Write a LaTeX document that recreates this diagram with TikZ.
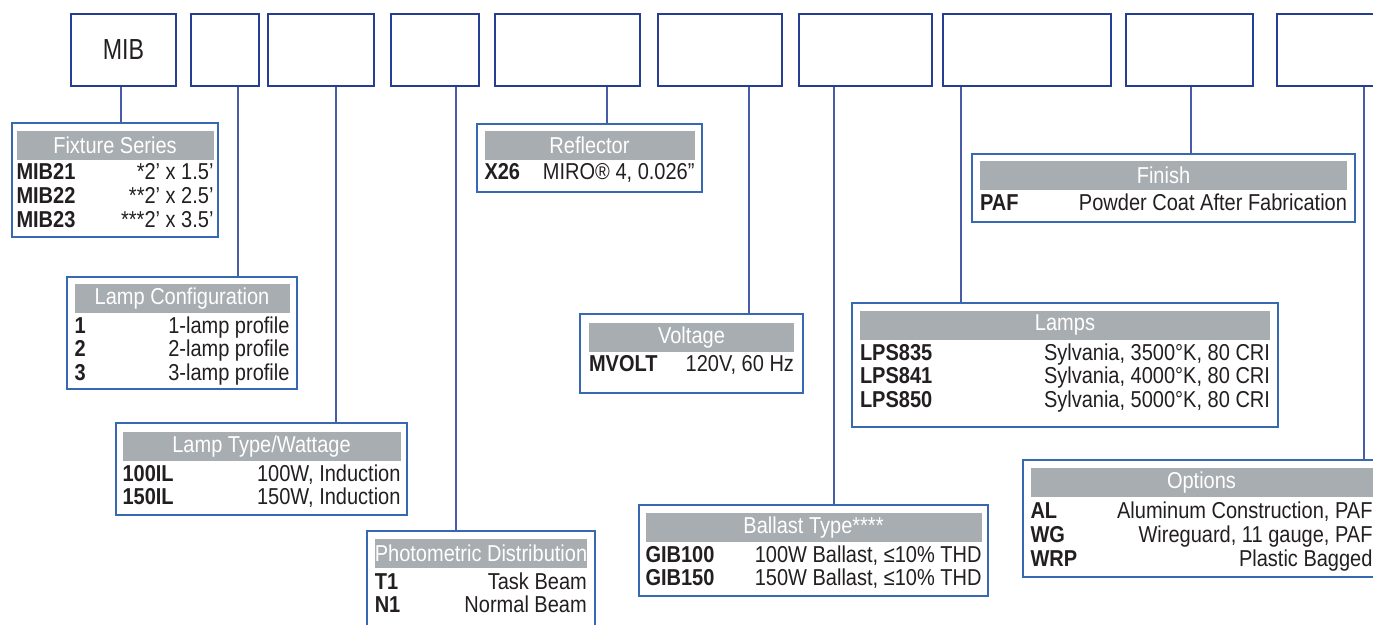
\documentclass[tikz,border=0pt]{standalone}
\usepackage{fontspec}
\setmainfont{Liberation Sans}[FakeStretch=0.87]
\newfontfamily\topfont{Liberation Sans}[FakeStretch=0.8]
\usepackage{xcolor}
\definecolor{MIBnavy}{RGB}{38,62,145}
\definecolor{MIBblue}{RGB}{55,105,178}
\definecolor{MIBline}{RGB}{72,92,168}
\definecolor{MIBgrey}{RGB}{168,173,177}
\definecolor{MIBtext}{RGB}{35,31,32}
\tikzset{every path/.style={line cap=butt, line join=miter}}

\begin{document}
\begin{tikzpicture}[
    x=1pt, y=-1pt,
    topbox/.style={
        draw=MIBnavy,
        line width=2.6pt,
        minimum height=72,
        inner sep=0pt,
        text=MIBtext,
        font=\topfont\fontsize{29}{32}\selectfont
    },
    legbox/.style={
        draw=MIBblue,
        line width=1.3pt,
        fill=white,
        inner sep=0pt
    },
    head/.style={
        fill=MIBgrey,
        text=white,
        anchor=north,
        minimum height=29,
        inner sep=0pt,
        font=\fontsize{23}{24}\selectfont
    },
    rows/.style={
        anchor=north west,
        inner sep=0pt,
        text=MIBtext,
        font=\fontsize{23}{23.6}\selectfont
    },
    link/.style={
        draw=MIBline,
        line width=1.3pt
    }
]
\useasboundingbox (0,0) rectangle (1373,624);

\node[topbox, minimum width=105] (t1) at (123.5,50) {MIB};
\node[topbox, minimum width=68] (t2) at (225,50) {};
\node[topbox, minimum width=106] (t3) at (321,50) {};
\node[topbox, minimum width=88] (t4) at (435,50) {};
\node[topbox, minimum width=145] (t5) at (567.5,50) {};
\node[topbox, minimum width=124] (t6) at (720,50) {};
\node[topbox, minimum width=133] (t7) at (865.5,50) {};
\node[topbox, minimum width=168] (t8) at (1027,50) {};
\node[topbox, minimum width=127] (t9) at (1189.5,50) {};
\node[topbox, minimum width=123] (t10) at (1338.5,50) {};

\node[legbox, minimum width=206, minimum height=114] (fixture) at (115,180) {};
\node[head, minimum width=197] (fixturehd) at ([yshift=-8pt]fixture.north) {Fixture Series};
\node[rows] (fixturerows) at ([yshift=-3.5pt]fixturehd.south west) {\begin{tabular*}{197pt}{@{}l@{\extracolsep{\fill}}r@{}}
\textbf{MIB21} & *2’ x 1.5’\\
\textbf{MIB22} & **2’ x 2.5’\\
\textbf{MIB23} & ***2’ x 3.5’
\end{tabular*}};

\node[legbox, minimum width=230, minimum height=112] (lampcfg) at (182,333) {};
\node[head, minimum width=215] (lampcfghd) at ([yshift=-7pt]lampcfg.north) {Lamp Configuration};
\node[rows] (lampcfgrows) at ([yshift=-3.5pt]lampcfghd.south west) {\begin{tabular*}{215pt}{@{}l@{\extracolsep{\fill}}r@{}}
\textbf{1} & 1-lamp profile\\
\textbf{2} & 2-lamp profile\\
\textbf{3} & 3-lamp profile
\end{tabular*}};

\node[legbox, minimum width=291, minimum height=92] (lamptype) at (261.5,469) {};
\node[head, minimum width=278] (lamptypehd) at ([yshift=-9pt]lamptype.north) {Lamp Type/Wattage};
\node[rows] (lamptyperows) at ([yshift=-3.5pt]lamptypehd.south west) {\begin{tabular*}{278pt}{@{}l@{\extracolsep{\fill}}r@{}}
\textbf{100IL} & 100W, Induction\\
\textbf{150IL} & 150W, Induction
\end{tabular*}};

\node[legbox, minimum width=228, minimum height=101] (photo) at (481,581.5) {};
\node[head, minimum width=212] (photohd) at ([yshift=-8pt]photo.north) {Photometric Distribution};
\node[rows] (photorows) at ([yshift=-4.5pt]photohd.south west) {\begin{tabular*}{212pt}{@{}l@{\extracolsep{\fill}}r@{}}
\textbf{T1} & Task Beam\\
\textbf{N1} & Normal Beam
\end{tabular*}};

\node[legbox, minimum width=225, minimum height=68] (reflector) at (589.5,158) {};
\node[head, minimum width=210] (reflectorhd) at ([yshift=-7pt]reflector.north) {Reflector};
\node[rows] (reflectorrows) at ([yshift=-3.5pt]reflectorhd.south west) {\begin{tabular*}{210pt}{@{}l@{\extracolsep{\fill}}r@{}}
\textbf{X26} & MIRO® 4, 0.026”
\end{tabular*}};

\node[legbox, minimum width=223, minimum height=79] (voltage) at (691.5,353.5) {};
\node[head, minimum width=205] (voltagehd) at ([yshift=-9pt]voltage.north) {Voltage};
\node[rows] (voltagerows) at ([yshift=-3.5pt]voltagehd.south west) {\begin{tabular*}{205pt}{@{}l@{\extracolsep{\fill}}r@{}}
\textbf{MVOLT} & 120V, 60 Hz
\end{tabular*}};

\node[legbox, minimum width=349, minimum height=91] (ballast) at (813.5,550.5) {};
\node[head, minimum width=336] (ballasthd) at ([yshift=-8pt]ballast.north) {Ballast Type****};
\node[rows] (ballastrows) at ([yshift=-3.5pt]ballasthd.south west) {\begin{tabular*}{336pt}{@{}l@{\extracolsep{\fill}}r@{}}
\textbf{GIB100} & 100W Ballast, ≤10\% THD\\
\textbf{GIB150} & 150W Ballast, ≤10\% THD
\end{tabular*}};

\node[legbox, minimum width=426, minimum height=124] (lamps) at (1065,365) {};
\node[head, minimum width=410] (lampshd) at ([yshift=-8pt]lamps.north) {Lamps};
\node[rows] (lampsrows) at ([yshift=-3.5pt]lampshd.south west) {\begin{tabular*}{410pt}{@{}l@{\extracolsep{\fill}}r@{}}
\textbf{LPS835} & Sylvania, 3500°K, 80 CRI\\
\textbf{LPS841} & Sylvania, 4000°K, 80 CRI\\
\textbf{LPS850} & Sylvania, 5000°K, 80 CRI
\end{tabular*}};

\node[legbox, minimum width=383, minimum height=68] (finish) at (1163.5,188) {};
\node[head, minimum width=367] (finishhd) at ([yshift=-7pt]finish.north) {Finish};
\node[rows] (finishrows) at ([yshift=-3.5pt]finishhd.south west) {\begin{tabular*}{367pt}{@{}l@{\extracolsep{\fill}}r@{}}
\textbf{PAF} & Powder Coat After Fabrication
\end{tabular*}};

\node[legbox, minimum width=357, minimum height=117] (options) at (1201.5,518.5) {};
\node[head, minimum width=342] (optionshd) at ([yshift=-8pt]options.north) {Options};
\node[rows] (optionsrows) at ([yshift=-5pt]optionshd.south west) {\begin{tabular*}{342pt}{@{}l@{\extracolsep{\fill}}r@{}}
\textbf{AL} & Aluminum Construction, PAF\\
\textbf{WG} & Wireguard, 11 gauge, PAF\\
\textbf{WRP} & Plastic Bagged
\end{tabular*}};

\draw[link] ([xshift=-2.5pt]t1.south) -- ([xshift=-2.5pt]t1.south |- fixture.north);
\draw[link] ([xshift=13pt]t2.south) -- ([xshift=13pt]t2.south |- lampcfg.north);
\draw[link] ([xshift=15pt]t3.south) -- ([xshift=15pt]t3.south |- lamptype.north);
\draw[link] ([xshift=21pt]t4.south) -- ([xshift=21pt]t4.south |- photo.north);
\draw[link] ([xshift=39.5pt]t5.south) -- ([xshift=39.5pt]t5.south |- reflector.north);
\draw[link] ([xshift=29pt]t6.south) -- ([xshift=29pt]t6.south |- voltage.north);
\draw[link] ([xshift=-31.5pt]t7.south) -- ([xshift=-31.5pt]t7.south |- ballast.north);
\draw[link] ([xshift=-66pt]t8.south) -- ([xshift=-66pt]t8.south |- lamps.north);
\draw[link] ([xshift=1.5pt]t9.south) -- ([xshift=1.5pt]t9.south |- finish.north);
\draw[link] ([xshift=25.5pt]t10.south) -- ([xshift=25.5pt]t10.south |- options.north);

\end{tikzpicture}
\end{document}
